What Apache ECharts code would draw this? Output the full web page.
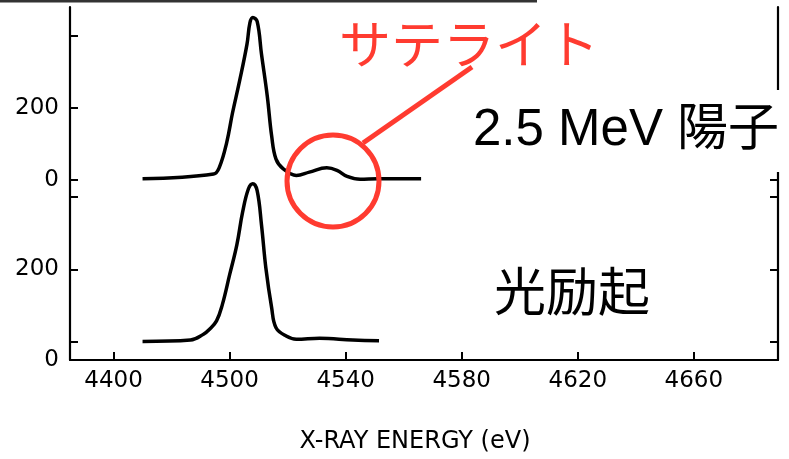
<!DOCTYPE html>
<html><head><meta charset="utf-8">
<script src="https://cdn.jsdelivr.net/npm/echarts@6/dist/echarts.min.js"></script>
<style>html,body{margin:0;padding:0;background:#fff}#c{width:789px;height:459px}</style>
</head><body><div id="c"></div>
<script>
// Upper spectrum: 2.5 MeV proton excitation
const energyUpper = [4470, 4494.5, 4496.5, 4499, 4501, 4503.5, 4506, 4507, 4508, 4509.5, 4511, 4513, 4514.5, 4516, 4518.5, 4523, 4527.5, 4533.5, 4537, 4540.5, 4545, 4551, 4566];
const countsUpper = [3, 16, 35, 103, 185, 276, 376, 435, 450, 439, 348, 231, 121, 57, 30, 12, 21, 33, 26, 9, 1, 3, 3];
// Lower spectrum: photo-excitation
const energyLower = [4470, 4486.5, 4491, 4493, 4495.5, 4497.5, 4500, 4502.5, 4504.5, 4506.5, 4508, 4509.5, 4511, 4512.5, 4514.5, 4516, 4519.5, 4523, 4531, 4542.5, 4551.5];
const countsLower = [1, 5, 21, 34, 58, 103, 185, 268, 359, 423, 437, 418, 323, 204, 94, 39, 16, 7, 10, 5, 3];

const xTickValues = [4460, 4500, 4540, 4580, 4620, 4660];
const xTickLabels = ['4400', '4500', '4540', '4580', '4620', '4660'];
const yTickValues = [0, 200, 400];
const yUpperLabelValues = [0, 200];
const yLowerLabelValues = [-50, 200];
const yLabelTexts = ['0', '200'];
const xAxisName = 'X-RAY ENERGY (eV)';
const labelUpper = '2.5 MeV 陽子';
const labelLower = '光励起';
const labelSatellite = 'サテライト';

const RED = '#ff3b30';
const axisLine = {show: true, onZero: false, lineStyle: {color: '#000', width: 2.2}};
const noLine = {show: false, onZero: false};
const tickStyle = {color: '#000', width: 2};
const labelFont = {color: '#000', fontSize: 23, fontFamily: 'DejaVu Sans'};

function pairs(xs, ys) { return xs.map((x, i) => [x, ys[i]]); }

const chart = echarts.init(document.getElementById('c'), null, {renderer: 'canvas'});
chart.setOption({
  animation: false,
  grid: {left: 70, right: 11, top: 7, bottom: 93},
  xAxis: {
    type: 'value', min: 4445, max: 4689,
    axisLine: axisLine,
    axisTick: {show: true, inside: true, length: 8, customValues: xTickValues, lineStyle: tickStyle},
    axisLabel: Object.assign({customValues: xTickValues, margin: 10,
      formatter: v => xTickLabels[xTickValues.indexOf(v)]}, labelFont),
    splitLine: {show: false},
    name: xAxisName, nameLocation: 'middle', nameGap: 70,
    nameTextStyle: {color: '#000', fontSize: 24, fontFamily: 'DejaVu Sans', padding: [0, 18, 0, 0]}
  },
  yAxis: [
    {type: 'value', position: 'left', min: -500, max: 479,
     axisLine: noLine,
     axisTick: {show: true, inside: true, length: 8, customValues: yTickValues, lineStyle: tickStyle},
     axisLabel: Object.assign({customValues: yUpperLabelValues, margin: 11,
       formatter: v => yLabelTexts[yUpperLabelValues.indexOf(v)]}, labelFont),
     splitLine: {show: false}},
    {type: 'value', position: 'left', min: -50, max: 925,
     axisLine: axisLine,
     axisTick: {show: true, inside: true, length: 8, customValues: yTickValues, lineStyle: tickStyle},
     axisLabel: Object.assign({customValues: yLowerLabelValues, margin: 11,
       formatter: v => yLabelTexts[yLowerLabelValues.indexOf(v)]}, labelFont),
     splitLine: {show: false}},
    {type: 'value', position: 'right', min: -500, max: 479,
     axisLine: noLine,
     axisTick: {show: true, inside: true, length: 8, customValues: [0, 200], lineStyle: tickStyle},
     axisLabel: {show: false}, splitLine: {show: false}},
    {type: 'value', position: 'right', min: -50, max: 925,
     axisLine: axisLine,
     axisTick: {show: true, inside: true, length: 8, customValues: yTickValues, lineStyle: tickStyle},
     axisLabel: {show: false}, splitLine: {show: false}}
  ],
  series: [
    {type: 'line', xAxisIndex: 0, yAxisIndex: 0, data: pairs(energyUpper, countsUpper),
     showSymbol: false, smooth: 0.4,
     lineStyle: {color: '#000', width: 3.5}},
    {type: 'line', xAxisIndex: 0, yAxisIndex: 1, data: pairs(energyLower, countsLower),
     showSymbol: false, smooth: 0.4,
     lineStyle: {color: '#000', width: 3.5}}
  ],
  graphic: [
    {type: 'line', z: 100, shape: {x1: 0, y1: 1.2, x2: 537, y2: 1.2}, style: {stroke: '#333', lineWidth: 2.5}},
    {type: 'rect', z: 100, shape: {x: 466, y: 90, width: 323, height: 82}, style: {fill: '#fff'}},
    {type: 'text', z: 101, x: 473, y: 131,
     style: {text: labelUpper, fill: '#000', font: '51px "Liberation Sans", "Noto Sans CJK JP"', verticalAlign: 'middle', align: 'left'}},
    {type: 'text', z: 101, x: 494, y: 291,
     style: {text: labelLower, fill: '#000', font: '52px "Noto Sans CJK JP"', verticalAlign: 'middle', align: 'left'}},
    {type: 'text', z: 101, x: 339, y: 44,
     style: {text: labelSatellite, fill: RED, font: '52px "Noto Sans CJK JP"', verticalAlign: 'middle', align: 'left'}},
    {type: 'circle', z: 101, shape: {cx: 333, cy: 181, r: 46}, style: {fill: 'none', stroke: RED, lineWidth: 5}},
    {type: 'line', z: 101, shape: {x1: 363, y1: 143, x2: 472, y2: 67}, style: {stroke: RED, lineWidth: 5}}
  ]
});
</script></body></html>
